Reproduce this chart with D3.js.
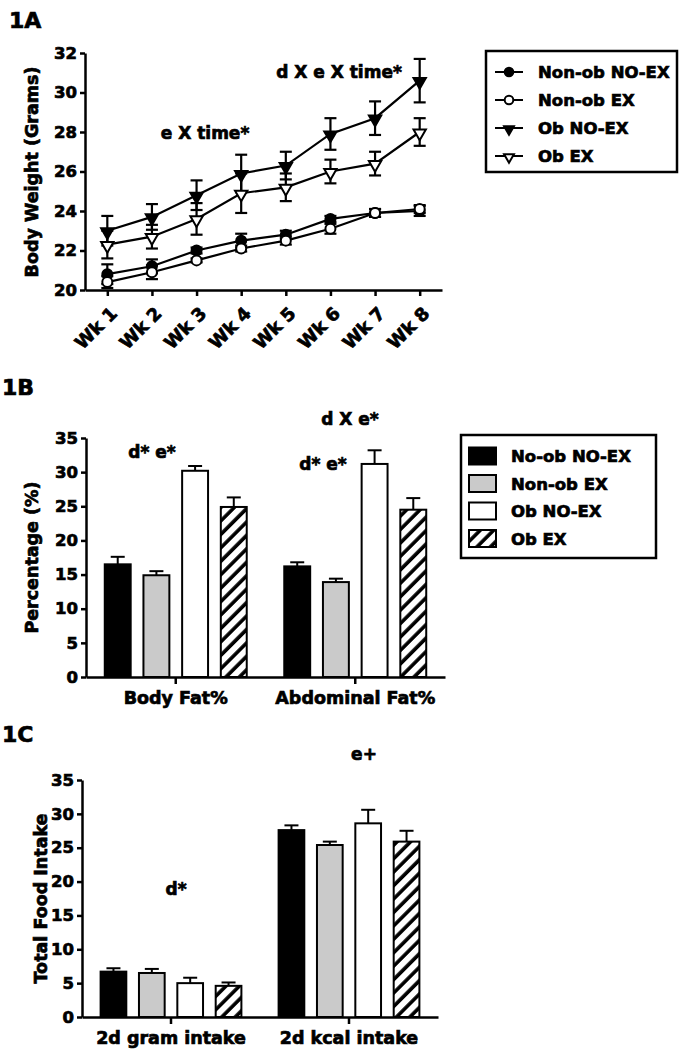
<!DOCTYPE html>
<html>
<head>
<meta charset="utf-8">
<script src="https://cdn.jsdelivr.net/npm/d3@7"></script>
<style>
  body { margin: 0; background: #fff; }
  text { font-family: "DejaVu Sans", sans-serif; font-weight: bold; fill: #000; stroke: #000; stroke-width: 0.7px; }
</style>
</head>
<body>
<div id="chart"></div>
<script>
// ---- data ----
var weeks = ["Wk 1", "Wk 2", "Wk 3", "Wk 4", "Wk 5", "Wk 6", "Wk 7", "Wk 8"];
var wtNonObNoEx    = [20.8, 21.2, 22.0, 22.5, 22.8, 23.6, 23.9, 24.0];
var wtNonObNoExErr = [0.5, 0.35, 0.15, 0.35, 0.2, 0.15, 0.2, 0.25];
var wtNonObEx      = [20.4, 20.9, 21.5, 22.1, 22.5, 23.1, 23.9, 24.1];
var wtNonObExErr   = [0.3, 0.35, 0.1, 0.15, 0.2, 0.25, 0.2, 0.2];
var wtObNoEx       = [23.0, 23.7, 24.8, 25.9, 26.3, 27.9, 28.7, 30.6];
var wtObNoExErr    = [0.75, 0.65, 0.75, 0.95, 0.7, 0.8, 0.85, 1.1];
var wtObEx         = [22.3, 22.7, 23.6, 24.9, 25.2, 26.0, 26.4, 28.0];
var wtObExErr      = [0.7, 0.6, 0.8, 1.0, 0.7, 0.6, 0.6, 0.7];
var weightTicks = [20, 22, 24, 26, 28, 30, 32];

var lineNames = ["Non-ob NO-EX", "Non-ob EX", "Ob NO-EX", "Ob EX"];
var barNames  = ["No-ob NO-EX", "Non-ob EX", "Ob NO-EX", "Ob EX"];

var fatGroups = ["Body Fat%", "Abdominal Fat%"];
var bodyFat    = [16.5, 14.9, 30.2, 24.9];
var bodyFatErr = [1.1, 0.6, 0.7, 1.4];
var abdFat     = [16.2, 13.9, 31.2, 24.5];
var abdFatErr  = [0.6, 0.5, 2.0, 1.7];

var foodGroups = ["2d gram intake", "2d kcal intake"];
var gramIntake    = [6.7, 6.5, 5.0, 4.6];
var gramIntakeErr = [0.5, 0.6, 0.8, 0.5];
var kcalIntake    = [27.6, 25.4, 28.6, 25.9];
var kcalIntakeErr = [0.7, 0.5, 2.0, 1.6];
var pctTicks = [0, 5, 10, 15, 20, 25, 30, 35];

// ---- svg ----
var svg = d3.select("#chart").append("svg")
  .attr("width", 679)
  .attr("height", 1050);

svg.append("rect").attr("width", 679).attr("height", 1050).attr("fill", "#fff");

// hatch pattern for Ob EX bars
svg.append("defs").append("pattern")
  .attr("id", "hatch")
  .attr("patternUnits", "userSpaceOnUse")
  .attr("width", 9.5)
  .attr("height", 9.5)
  .attr("patternTransform", "rotate(45)")
  .call(function(p) {
    p.append("rect").attr("width", 9.5).attr("height", 9.5).attr("fill", "#fff");
    p.append("line").attr("x1", 2).attr("x2", 2).attr("y1", 0).attr("y2", 9.5)
      .attr("stroke", "#000").attr("stroke-width", 3.6);
  });

var barFills = ["#000", "#cacaca", "#fff", "url(#hatch)"];

function styleAxis(g) {
  g.selectAll("path.domain").attr("stroke", "#000").attr("stroke-width", 2.5);
  g.selectAll(".tick line").attr("stroke", "#000").attr("stroke-width", 2.5);
  g.selectAll(".tick text").attr("font-size", 16.5).attr("font-family", "DejaVu Sans").attr("font-weight", "bold");
}

// ======================= 1A =======================
svg.append("text").attr("x", 9).attr("y", 28).attr("font-size", 22).text("1A");

var xA = d3.scalePoint().domain(weeks).range([85, 442]).padding(0.5);
var yA = d3.scaleLinear().domain([20, 32]).range([290, 53]);

var axA = svg.append("g").attr("transform", "translate(85,0)")
  .call(d3.axisLeft(yA).tickValues(weightTicks).tickSize(5).tickSizeOuter(0).tickPadding(3));
styleAxis(axA);

var axAx = svg.append("g").attr("transform", "translate(0,290)")
  .call(d3.axisBottom(xA).tickSize(6).tickSizeOuter(0));
styleAxis(axAx);
axAx.selectAll(".tick text")
  .attr("font-size", 18)
  .attr("text-anchor", "end")
  .attr("transform", "translate(1,15) rotate(-45)")
  .attr("dy", "0.75em")
  .attr("y", 0);

svg.append("text")
  .attr("transform", "translate(38,172) rotate(-90)")
  .attr("text-anchor", "middle")
  .attr("font-size", 17.5)
  .text("Body Weight (Grams)");

var series = [
  { name: lineNames[0], vals: wtNonObNoEx, err: wtNonObNoExErr, sym: "circle", fill: "#000" },
  { name: lineNames[1], vals: wtNonObEx, err: wtNonObExErr, sym: "circle", fill: "#fff" },
  { name: lineNames[2], vals: wtObNoEx, err: wtObNoExErr, sym: "tri", fill: "#000" },
  { name: lineNames[3], vals: wtObEx, err: wtObExErr, sym: "tri", fill: "#fff" }
];

function drawMarker(g, s, x, y, big) {
  if (s.sym === "circle") {
    g.append("circle").attr("cx", x).attr("cy", y).attr("r", big ? 5 : 4.3)
      .attr("fill", s.fill).attr("stroke", "#000").attr("stroke-width", 2);
  } else {
    g.append("path")
      .attr("d", d3.symbol().type(d3.symbolTriangle).size(big ? 66 : 42)())
      .attr("transform", "translate(" + x + "," + (y + 1) + ") rotate(180)")
      .attr("fill", s.fill).attr("stroke", "#000").attr("stroke-width", 2);
  }
}

var line = d3.line().x(function(d, i) { return xA(weeks[i]); }).y(function(d) { return yA(d); });
var plotA = svg.append("g");

series.forEach(function(s) {
  s.vals.forEach(function(v, i) {
    var x = xA(weeks[i]);
    plotA.append("line").attr("x1", x).attr("x2", x)
      .attr("y1", yA(v - s.err[i])).attr("y2", yA(v + s.err[i]))
      .attr("stroke", "#000").attr("stroke-width", 2.2);
    [v - s.err[i], v + s.err[i]].forEach(function(e) {
      plotA.append("line").attr("x1", x - 6).attr("x2", x + 6)
        .attr("y1", yA(e)).attr("y2", yA(e))
        .attr("stroke", "#000").attr("stroke-width", 2.2);
    });
  });
});
series.forEach(function(s) {
  plotA.append("path").datum(s.vals).attr("d", line)
    .attr("fill", "none").attr("stroke", "#000").attr("stroke-width", 2.2);
});
series.forEach(function(s) {
  s.vals.forEach(function(v, i) { drawMarker(plotA, s, xA(weeks[i]), yA(v), true); });
});

svg.append("text").attr("x", 205).attr("y", 139).attr("text-anchor", "middle").attr("font-size", 17).text("e X time*");
svg.append("text").attr("x", 339).attr("y", 78).attr("text-anchor", "middle").attr("font-size", 17).text("d X e X time*");

// legend 1A
var legA = svg.append("g");
legA.append("rect").attr("x", 486).attr("y", 51).attr("width", 191).attr("height", 121)
  .attr("fill", "#fff").attr("stroke", "#000").attr("stroke-width", 2.5);
series.forEach(function(s, i) {
  var y = 72 + i * 28;
  legA.append("line").attr("x1", 495).attr("x2", 523).attr("y1", y).attr("y2", y)
    .attr("stroke", "#000").attr("stroke-width", 2);
  drawMarker(legA, s, 509, y, false);
  legA.append("text").attr("x", 538).attr("y", y + 6).attr("font-size", 16.5).text(s.name);
});

// ======================= bar panels =======================
function barPanel(opt) {
  var x0 = d3.scaleBand().domain(opt.groups).range([opt.left, opt.right]);
  var x1 = d3.scaleBand().domain(d3.range(4)).range([0, x0.bandwidth()])
    .paddingInner(0.33).paddingOuter(0.485);
  var y = d3.scaleLinear().domain([0, 35]).range([opt.bottom, opt.top]);

  var g = svg.append("g");
  opt.groups.forEach(function(grp, gi) {
    var means = opt.means[gi], errs = opt.errs[gi];
    means.forEach(function(m, i) {
      var bx = x0(grp) + x1(i), cx = bx + x1.bandwidth() / 2;
      g.append("line").attr("x1", cx).attr("x2", cx)
        .attr("y1", y(m)).attr("y2", y(m + errs[i]))
        .attr("stroke", "#000").attr("stroke-width", 2);
      g.append("line").attr("x1", cx - 7).attr("x2", cx + 7)
        .attr("y1", y(m + errs[i])).attr("y2", y(m + errs[i]))
        .attr("stroke", "#000").attr("stroke-width", 2);
      g.append("rect").attr("x", bx).attr("y", y(m))
        .attr("width", x1.bandwidth()).attr("height", y(0) - y(m))
        .attr("fill", barFills[i]).attr("stroke", "#000").attr("stroke-width", 2);
    });
  });

  var ay = svg.append("g").attr("transform", "translate(" + opt.left + ",0)")
    .call(d3.axisLeft(y).tickValues(pctTicks).tickSize(5).tickSizeOuter(0).tickPadding(3));
  styleAxis(ay);
  var ax = svg.append("g").attr("transform", "translate(0," + opt.bottom + ")")
    .call(d3.axisBottom(x0).tickSize(7).tickSizeOuter(0).tickPadding(8));
  styleAxis(ax);
  ax.selectAll(".tick text").attr("font-size", 17.5);

  svg.append("text")
    .attr("transform", "translate(" + opt.ylabX + "," + (opt.top + opt.bottom) / 2 + ") rotate(-90)")
    .attr("text-anchor", "middle").attr("font-size", 17.5).text(opt.ylabel);
  return { x0: x0, y: y };
}

// ======================= 1B =======================
svg.append("text").attr("x", 2).attr("y", 395).attr("font-size", 22).text("1B");
barPanel({
  groups: fatGroups, means: [bodyFat, abdFat], errs: [bodyFatErr, abdFatErr],
  left: 86, right: 445, top: 438, bottom: 677, ylabel: "Percentage (%)", ylabX: 38
});
svg.append("text").attr("x", 152).attr("y", 458).attr("text-anchor", "middle").attr("font-size", 17).text("d* e*");
svg.append("text").attr("x", 323).attr("y", 470).attr("text-anchor", "middle").attr("font-size", 17).text("d* e*");
svg.append("text").attr("x", 350).attr("y", 425).attr("text-anchor", "middle").attr("font-size", 17).text("d X e*");

// legend 1B
var legB = svg.append("g");
legB.append("rect").attr("x", 461).attr("y", 435).attr("width", 195).attr("height", 123)
  .attr("fill", "#fff").attr("stroke", "#000").attr("stroke-width", 2.5);
barNames.forEach(function(n, i) {
  var y = 456 + i * 27.5;
  legB.append("rect").attr("x", 469).attr("y", y - 8.5).attr("width", 27).attr("height", 17)
    .attr("fill", barFills[i]).attr("stroke", "#000").attr("stroke-width", 2);
  legB.append("text").attr("x", 511).attr("y", y + 6).attr("font-size", 16.5).text(n);
});

// ======================= 1C =======================
svg.append("text").attr("x", 2).attr("y", 742).attr("font-size", 22).text("1C");
barPanel({
  groups: foodGroups, means: [gramIntake, kcalIntake], errs: [gramIntakeErr, kcalIntakeErr],
  left: 82, right: 438, top: 780, bottom: 1017, ylabel: "Total Food Intake", ylabX: 47
});
svg.append("text").attr("x", 176).attr("y", 895).attr("text-anchor", "middle").attr("font-size", 17).text("d*");
svg.append("text").attr("x", 364).attr("y", 760).attr("text-anchor", "middle").attr("font-size", 17).text("e+");
</script>
</body>
</html>
